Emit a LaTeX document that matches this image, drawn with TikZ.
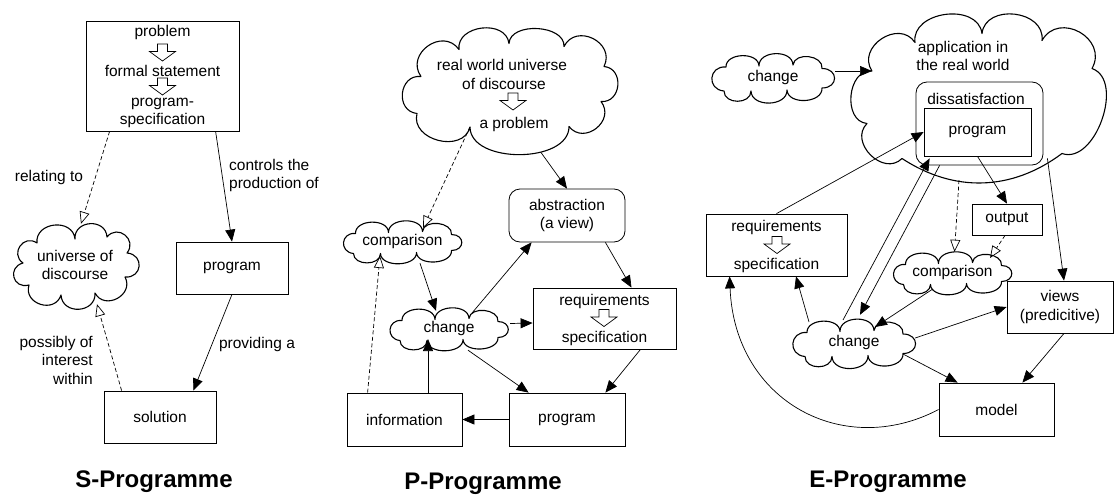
\documentclass[tikz,border=0pt]{standalone}
\usepackage{fontspec}
\setmainfont{Liberation Sans}
\usetikzlibrary{arrows.meta}
% draw a cloud outline around node #1: #2 first point, #3 list x/y/bend/looseness
\newcommand\puffcloud[3]{%
  \begin{scope}[shift={(#1)}]
  \draw[cloudline] (#2) \foreach \px/\py/\bb/\ll in {#3} { to[bend right=\bb, looseness=\ll] (\px,\py) } -- cycle;
  \end{scope}}
\begin{document}
\begin{tikzpicture}[x=1pt,y=1pt,
  every node/.style={font=\fontsize{15.5}{18.5}\selectfont, inner sep=0pt},
  box/.style={draw, line width=0.8pt, fill=white},
  rbox/.style={draw, line width=0.8pt, rounded corners=11pt, fill=white},
  cloudbox/.style={rectangle, draw=none},
  cloudline/.style={line width=1.1pt, line join=round},
  arr/.style={line width=0.7pt, -{Triangle[length=12pt,width=10pt]}},
  darr/.style={line width=0.7pt, dash pattern=on 4pt off 2.5pt, -{Triangle[open,length=12pt,width=10pt]}},
  titletext/.style={font=\fontsize{24}{28}\selectfont\bfseries},
  hollow/.pic={\draw[line width=0.7pt, fill=white] (-5,8.5) -- (5,8.5) -- (5,1) -- (13,1) -- (0,-8.5) -- (-13,1) -- (-5,1) -- cycle;}
]
\useasboundingbox (0,0) rectangle (1114,-498);

% ---------------- S-Programme ----------------
\node[box, minimum width=153pt, minimum height=110pt] (stop) at (162.5,-76) {};
\node (stxt1) at (162.5,-32) {problem};
\pic at (162.5,-52.5) {hollow};
\node (stxt2) at (162.5,-71) {formal statement};
\pic at (162.5,-86.5) {hollow};
\node (stxt3) at (162.5,-104) {program-};
\node (stxt4) at (162.5,-120) {specification};
\node[cloudbox, minimum width=130pt, minimum height=86pt, align=center] (scloud) at (75,-265) {universe of\\discourse};
\puffcloud{scloud}{52,12}{32/28/90/1.7, 0/26/90/1.53, -38/22/90/1.43, -52/2/90/1.7, -46/-20/90/1.87, -14/-30/90/1.53, 20/-28/90/1.53, 50/-12/90/1.53, 52/12/90/1.87}
\node[box, minimum width=112pt, minimum height=52pt] (sprog) at (232,-268) {program};
\node[box, minimum width=112pt, minimum height=52pt] (ssol) at (160,-417) {solution};

\draw[arr] ([xshift=130pt]stop.south west) -- (sprog.north);
\draw[darr] ([xshift=24pt]stop.south west) -- ([xshift=6pt,yshift=-2pt]scloud.north);
\draw[arr] (sprog.south) -- ([xshift=-23pt]ssol.north east);
\draw[darr] ([xshift=18pt]ssol.north west) -- ([xshift=22pt,yshift=4pt]scloud.south);

\node[anchor=west, align=left] (slbl1) at (229,-175.5) {controls the\\production of};
\node (slbl2) at (49,-177) {relating to};
\node (slbl3) at (257,-344) {providing a};
\node[anchor=east, align=right] (slbl4) at (93,-360) {possibly of\\interest\\within};
\node[titletext] (stitle) at (154,-482) {S-Programme};

% ---------------- P-Programme ----------------
\node[cloudbox, minimum width=214pt, minimum height=127pt] (pcloud) at (509,-91.5) {};
\puffcloud{pcloud}{92,-10}{95/25/90/1.5, 55/45/90/1.53, 0/48/90/1.02, -50/42/90/1.26, -88/15/90/1.53, -92/-22/90/1.53, -39/-35.5/90/1.3, 60/-35/90/0.96, 92/-10/90/1.53}
\node (ptxt1) at (502,-65) {real world universe};
\node (ptxt2) at (504,-84) {of discourse};
\pic at (513,-101.5) {hollow};
\node (ptxt3) at (514,-124) {a problem};
\node[rbox, minimum width=116pt, minimum height=53pt, align=center] (pabs) at (567,-215.5) {abstraction\\(a view)};
\node[cloudbox, minimum width=121pt, minimum height=43pt] (pcomp) at (402.5,-241.5) {comparison};
\puffcloud{pcomp}{49,7}{20/10/90/1.12, -14/9/90/1.12, -47/8/90/1.12, -49/-12/90/1.87, -22/-12/90/1.19, 14/-11/90/1.02, 49/-9/90/1.02, 49/7/90/2.2}
\node[cloudbox, minimum width=122pt, minimum height=43pt] (pchg) at (449,-328.5) {change};
\puffcloud{pchg}{49,7}{20/10/90/1.12, -14/9/90/1.12, -47/8/90/1.12, -49/-12/90/1.87, -22/-12/90/1.19, 14/-11/90/1.02, 49/-9/90/1.02, 49/7/90/2.2}
\node[box, minimum width=143pt, minimum height=61pt] (preq) at (604.5,-318.5) {};
\node (preqt1) at (604.5,-301) {requirements};
\pic at (604,-318) {hollow};
\node (preqt2) at (604.5,-338) {specification};
\node[box, minimum width=115pt, minimum height=53pt] (pinfo) at (404.5,-419.5) {information};
\node[box, minimum width=116pt, minimum height=53pt] (pprog) at (567,-419.5) {program};

\draw[arr] ([shift={(32pt,-61pt)}]pcloud.center) -- (pabs.north);
\draw[darr] ([shift={(-39pt,-35.5pt)}]pcloud.center) -- ([shift={(20.5pt,13.5pt)}]pcomp.center);
\draw[arr] ([xshift=-20pt]pabs.south east) -- ([xshift=27pt]preq.north);
\draw[arr] ([xshift=17.5pt]pcomp.south) -- ([shift={(-13pt,-4pt)}]pchg.north);
\draw[arr] ([shift={(23pt,15.5pt)}]pchg.center) -- ([xshift=23pt]pabs.south west);
\draw[arr] ([yshift=5pt]pchg.east) -- ([yshift=-4.5pt]preq.west);
\draw[arr] ([xshift=19pt]pchg.south) -- ([xshift=20pt]pprog.north west);
\draw[arr] ([xshift=36pt]preq.south) -- ([xshift=-20pt]pprog.north east);
\draw[arr] (pprog.west) -- (pinfo.east);
\draw[arr] ([xshift=23.5pt]pinfo.north) -- ([shift={(-21pt,-10.5pt)}]pchg.center);
\draw[darr] ([xshift=21pt]pinfo.north west) -- ([shift={(-22.5pt,-14.5pt)}]pcomp.center);
\node[titletext] (ptitle) at (483,-484) {P-Programme};

% ---------------- E-Programme ----------------
\node[cloudbox, minimum width=124pt, minimum height=50pt] (echg1) at (773,-77) {change};
\puffcloud{echg1}{49,8.5}{20/12/90/1.19, -14/11/90/1.19, -47/10/90/1.12, -49/-14/90/1.87, -22/-14/90/1.3, 14/-13/90/1.19, 49/-11/90/1.12, 49/8.5/90/2.2}
\node[cloudbox, minimum width=256pt, minimum height=167pt] (ecloud) at (977,-98.5) {};
\puffcloud{ecloud}{115,30}{65/58/90/1.53, 5/65/90/1.3, -62/56/90/1.2, -105/27.5/90/1.43, -110/-25/90/1.2, -75/-60/90/1.36, 85/-55/35/1, 115/30/90/1.0}
\node[align=center] (ecloudt) at (963,-56) {application in\\the real world};
\node[rbox, minimum width=127pt, minimum height=83pt] (ediss) at (979.5,-123.5) {};
\node (edisst) at (976,-99) {dissatisfaction};
\node[box, minimum width=107pt, minimum height=48pt] (eprog) at (977.5,-132) {program};
\node[box, minimum width=70pt, minimum height=31pt] (eout) at (1007,-219.5) {output};
\node[box, minimum width=141pt, minimum height=62pt] (ereq) at (776.5,-245) {};
\node (ereqt1) at (776.5,-227) {requirements};
\pic at (777,-245) {hollow};
\node (ereqt2) at (776.5,-265) {specification};
\node[cloudbox, minimum width=121pt, minimum height=41pt] (ecomp) at (952.5,-272.5) {comparison};
\puffcloud{ecomp}{49,7}{20/10/90/1.12, -14/9/90/1.12, -47/8/90/1.12, -49/-12/90/1.87, -22/-12/90/1.19, 14/-11/90/1.02, 49/-9/90/1.02, 49/7/90/2.2}
\node[cloudbox, minimum width=122pt, minimum height=51pt] (echg) at (854,-342.5) {change};
\puffcloud{echg}{49,8.5}{20/12/90/1.19, -14/11/90/1.19, -47/10/90/1.12, -49/-14/90/1.87, -22/-14/90/1.3, 14/-13/90/1.19, 49/-11/90/1.12, 49/8.5/90/2.2}
\node[box, minimum width=106pt, minimum height=52pt, align=center] (eviews) at (1060,-307) {views\\(predicitive)};
\node[box, minimum width=115pt, minimum height=53pt] (emodel) at (996.5,-409.5) {model};

\draw[arr] ([yshift=6pt]echg1.east) -- ([shift={(-105pt,27.5pt)}]ecloud.center);
\draw[arr] (ereq.north) -- (eprog.west);
\draw[arr] (eprog.south) -- (eout.north);
\draw[arr] ([shift={(4pt,7pt)}]ediss.south east) -- ([xshift=4pt]eviews.north);
\draw[darr] ([xshift=-18pt,yshift=2pt]ecloud.south) -- ([xshift=2pt]ecomp.north);
\draw[darr] ([xshift=-2pt]eout.south) -- ([shift={(37.5pt,14.5pt)}]ecomp.center);
\draw[arr] ([shift={(-20pt,4pt)}]ecomp.south) -- ([shift={(21pt,15.5pt)}]echg.center);
\draw[arr] ([yshift=4.5pt]echg.east) -- (eviews.west);
\draw[arr] ([shift={(49pt,-11.5pt)}]echg.center) -- ([xshift=19pt]emodel.north west);
\draw[arr] ([xshift=4pt]eviews.south) -- ([xshift=-32pt]emodel.north east);
\draw[arr] ([shift={(-45pt,20.5pt)}]echg.center) -- ([xshift=19.5pt]ereq.south);
\draw[arr] (emodel.west) .. controls +(-95pt,-50pt) and +(5pt,-125pt) .. ([xshift=24pt]ereq.south west);
\draw[arr] ([shift={(-11pt,22.5pt)}]echg.center) -- ([shift={(6pt,-2pt)}]eprog.south west);
\draw[arr] ([xshift=24pt]ediss.south west) -- ([shift={(6pt,2pt)}]echg.north);
\node[titletext] (etitle) at (888,-482) {E-Programme};
\end{tikzpicture}
\end{document}
